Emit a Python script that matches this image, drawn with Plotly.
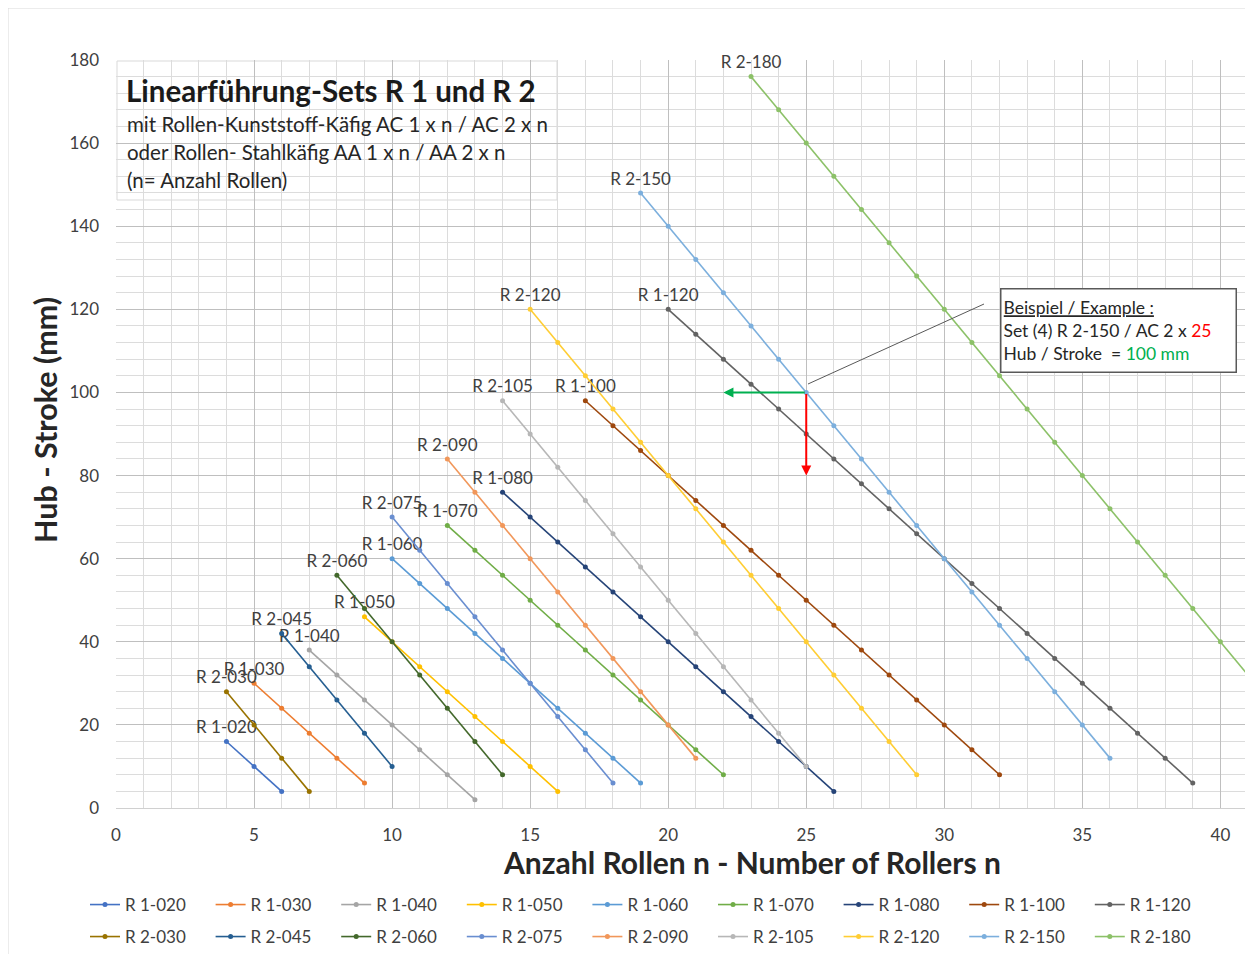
import plotly.graph_objects as go

# ---------------- data ----------------
series_names = ["R 1-020", "R 1-030", "R 1-040", "R 1-050", "R 1-060", "R 1-070",
                "R 1-080", "R 1-100", "R 1-120",
                "R 2-030", "R 2-045", "R 2-060", "R 2-075", "R 2-090", "R 2-105",
                "R 2-120", "R 2-150", "R 2-180"]

r1_020_x = [4, 5, 6]
r1_020_y = [16, 10, 4]
r1_030_x = [5, 6, 7, 8, 9]
r1_030_y = [30, 24, 18, 12, 6]
r1_040_x = [7, 8, 9, 10, 11, 12, 13]
r1_040_y = [38, 32, 26, 20, 14, 8, 2]
r1_050_x = [9, 10, 11, 12, 13, 14, 15, 16]
r1_050_y = [46, 40, 34, 28, 22, 16, 10, 4]
r1_060_x = [10, 11, 12, 13, 14, 15, 16, 17, 18, 19]
r1_060_y = [60, 54, 48, 42, 36, 30, 24, 18, 12, 6]
r1_070_x = [12, 13, 14, 15, 16, 17, 18, 19, 20, 21, 22]
r1_070_y = [68, 62, 56, 50, 44, 38, 32, 26, 20, 14, 8]
r1_080_x = [14, 15, 16, 17, 18, 19, 20, 21, 22, 23, 24, 25, 26]
r1_080_y = [76, 70, 64, 58, 52, 46, 40, 34, 28, 22, 16, 10, 4]
r1_100_x = [17, 18, 19, 20, 21, 22, 23, 24, 25, 26, 27, 28, 29, 30, 31, 32]
r1_100_y = [98, 92, 86, 80, 74, 68, 62, 56, 50, 44, 38, 32, 26, 20, 14, 8]
r1_120_x = [20, 21, 22, 23, 24, 25, 26, 27, 28, 29, 30, 31, 32, 33, 34, 35, 36, 37, 38, 39]
r1_120_y = [120, 114, 108, 102, 96, 90, 84, 78, 72, 66, 60, 54, 48, 42, 36, 30, 24, 18, 12, 6]

r2_030_x = [4, 5, 6, 7]
r2_030_y = [28, 20, 12, 4]
r2_045_x = [6, 7, 8, 9, 10]
r2_045_y = [42, 34, 26, 18, 10]
r2_060_x = [8, 9, 10, 11, 12, 13, 14]
r2_060_y = [56, 48, 40, 32, 24, 16, 8]
r2_075_x = [10, 11, 12, 13, 14, 15, 16, 17, 18]
r2_075_y = [70, 62, 54, 46, 38, 30, 22, 14, 6]
r2_090_x = [12, 13, 14, 15, 16, 17, 18, 19, 20, 21]
r2_090_y = [84, 76, 68, 60, 52, 44, 36, 28, 20, 12]
r2_105_x = [14, 15, 16, 17, 18, 19, 20, 21, 22, 23, 24, 25]
r2_105_y = [98, 90, 82, 74, 66, 58, 50, 42, 34, 26, 18, 10]
r2_120_x = [15, 16, 17, 18, 19, 20, 21, 22, 23, 24, 25, 26, 27, 28, 29]
r2_120_y = [120, 112, 104, 96, 88, 80, 72, 64, 56, 48, 40, 32, 24, 16, 8]
r2_150_x = [19, 20, 21, 22, 23, 24, 25, 26, 27, 28, 29, 30, 31, 32, 33, 34, 35, 36]
r2_150_y = [148, 140, 132, 124, 116, 108, 100, 92, 84, 76, 68, 60, 52, 44, 36, 28, 20, 12]
r2_180_x = [23, 24, 25, 26, 27, 28, 29, 30, 31, 32, 33, 34, 35, 36, 37, 38, 39, 40, 41]
r2_180_y = [176, 168, 160, 152, 144, 136, 128, 120, 112, 104, 96, 88, 80, 72, 64, 56, 48, 40, 32]

series_x = [r1_020_x, r1_030_x, r1_040_x, r1_050_x, r1_060_x, r1_070_x, r1_080_x, r1_100_x, r1_120_x,
            r2_030_x, r2_045_x, r2_060_x, r2_075_x, r2_090_x, r2_105_x, r2_120_x, r2_150_x, r2_180_x]
series_y = [r1_020_y, r1_030_y, r1_040_y, r1_050_y, r1_060_y, r1_070_y, r1_080_y, r1_100_y, r1_120_y,
            r2_030_y, r2_045_y, r2_060_y, r2_075_y, r2_090_y, r2_105_y, r2_120_y, r2_150_y, r2_180_y]

colors = ["#4472C4", "#ED7D31", "#A5A5A5", "#FFC000", "#5B9BD5", "#70AD47",
          "#264478", "#9E480E", "#636363",
          "#997300", "#255E91", "#43682B", "#698ED0", "#F1975A", "#B7B7B7",
          "#FFCD33", "#7CAFDD", "#8CC168"]

x_ticks = [0, 5, 10, 15, 20, 25, 30, 35, 40]
y_ticks = [0, 20, 40, 60, 80, 100, 120, 140, 160, 180]

FONT = "Lato, 'Open Sans', sans-serif"
TXT = "#404040"

# pixel geometry helpers (layout only); the page body adds an 8px margin
OFF = 8
W, H = 1253 - OFF, 954 - OFF
ML, MR, MT, MB = 116 - OFF, 5, 60 - OFF, 146
PW, PH = W - ML - MR, H - MT - MB


def px(xp):  # page pixel -> paper x
    return (xp - OFF - ML) / PW


def py(yp):  # page pixel -> paper y
    return (H - MB - (yp - OFF)) / PH


fig = go.Figure()
for i, name in enumerate(series_names):
    xs, ys = series_x[i], series_y[i]
    labels = [name] + [""] * (len(xs) - 1)
    fig.add_trace(go.Scatter(
        x=xs, y=ys, name=name,
        mode="lines+markers+text",
        text=labels, textposition="top center",
        textfont=dict(family=FONT, size=17, color=TXT),
        line=dict(color=colors[i], width=1.6),
        marker=dict(color=colors[i], size=5),
        cliponaxis=False,
        legend="legend" if i < 9 else "legend2",
    ))

fig.update_layout(
    width=W, height=H,
    margin=dict(l=ML, r=MR, t=MT, b=MB, autoexpand=False),
    paper_bgcolor="white", plot_bgcolor="white",
    font=dict(family=FONT, color=TXT),
    showlegend=True,
    xaxis=dict(range=[0, 41], tickvals=x_ticks, showgrid=True, gridcolor="#BFBFBF", gridwidth=1,
               minor=dict(dtick=1, showgrid=True, gridcolor="#DCDCDC", gridwidth=1),
               zeroline=False, showline=True, linecolor="#D0D0D0",
               tickfont=dict(family=FONT, size=17, color="#404040"), ticks="", ticklabelstandoff=12,
               automargin=False),
    yaxis=dict(range=[0, 180], tickvals=y_ticks, showgrid=True, gridcolor="#BFBFBF", gridwidth=1,
               minor=dict(dtick=4, showgrid=True, gridcolor="#DCDCDC", gridwidth=1),
               zeroline=False, showline=False,
               tickfont=dict(family=FONT, size=17, color="#404040"), ticks="", ticklabelstandoff=16,
               automargin=False),
    legend=dict(orientation="h", x=px(85), xanchor="left", y=py(905), yanchor="middle",
                font=dict(family=FONT, size=17, color=TXT), entrywidth=80.6, entrywidthmode="pixels",
                bgcolor="rgba(0,0,0,0)", tracegroupgap=0),
    legend2=dict(orientation="h", x=px(85), xanchor="left", y=py(937), yanchor="middle",
                 font=dict(family=FONT, size=17, color=TXT), entrywidth=80.6, entrywidthmode="pixels",
                 bgcolor="rgba(0,0,0,0)", tracegroupgap=0),
)

shapes = [
    # outer chart frame
    dict(type="rect", xref="paper", yref="paper", x0=px(8), x1=px(1260), y0=py(960), y1=py(8),
         line=dict(color="#D9D9D9", width=1), fillcolor="rgba(0,0,0,0)", layer="below"),
    # title box
    dict(type="rect", xref="paper", yref="paper", x0=px(117), x1=px(557), y0=py(200), y1=py(61),
         line=dict(color="#D9D9D9", width=1), fillcolor="white", layer="between"),
    # leader line of example box
    dict(type="line", xref="paper", yref="paper", x0=px(808), y0=py(384), x1=px(984), y1=py(304),
         line=dict(color="#595959", width=1)),
]

annotations = [
    dict(text="<b>Linearführung-Sets R 1 und R 2</b>", xref="paper", yref="paper",
         x=px(124), y=py(90), xanchor="left", yanchor="middle", showarrow=False,
         font=dict(family=FONT, size=29.5, color="#1A1A1A")),
    dict(text="mit Rollen-Kunststoff-Käfig AC 1 x n / AC 2 x n", xref="paper", yref="paper",
         x=px(125), y=py(124), xanchor="left", yanchor="middle", showarrow=False,
         font=dict(family=FONT, size=20.5, color="#262626")),
    dict(text="oder Rollen- Stahlkäfig AA 1 x n / AA 2 x n", xref="paper", yref="paper",
         x=px(125), y=py(152), xanchor="left", yanchor="middle", showarrow=False,
         font=dict(family=FONT, size=20.5, color="#262626")),
    dict(text="(n= Anzahl Rollen)", xref="paper", yref="paper",
         x=px(125), y=py(180), xanchor="left", yanchor="middle", showarrow=False,
         font=dict(family=FONT, size=20.5, color="#262626")),
    # example box
    dict(text="<u>Beispiel / Example :</u><br>Set (4) R 2-150 / AC 2 x <span style='color:#FF0000'>25</span>"
              "<br>Hub / Stroke  = <span style='color:#00B050'>100 mm</span>",
         xref="paper", yref="paper", x=px(1000), y=py(288), xanchor="left", yanchor="top",
         showarrow=False, align="left", width=230, height=78, valign="middle",
         bgcolor="white", bordercolor="#595959", borderwidth=1.5, borderpad=2,
         font=dict(family=FONT, size=17.5, color="#262626")),
    # arrows
    dict(x=22, y=100, ax=25, ay=100, xref="x", yref="y", axref="x", ayref="y", text="",
         showarrow=True, arrowhead=2, arrowsize=1, arrowwidth=2, arrowcolor="#00B050"),
    dict(x=25, y=80, ax=25, ay=100, xref="x", yref="y", axref="x", ayref="y", text="",
         showarrow=True, arrowhead=2, arrowsize=1, arrowwidth=2, arrowcolor="#FF0000"),
    # axis titles
    dict(text="<b>Anzahl Rollen n - Number of Rollers n</b>", xref="paper", yref="paper",
         x=px(752), y=py(862), xanchor="center", yanchor="middle", showarrow=False,
         font=dict(family=FONT, size=30, color="#262626")),
    dict(text="<b>Hub - Stroke (mm)</b>", xref="paper", yref="paper", textangle=-90,
         x=px(45), y=py(420), xanchor="center", yanchor="middle", showarrow=False,
         font=dict(family=FONT, size=30.5, color="#262626")),
]

fig.update_layout(shapes=shapes, annotations=annotations)
fig.write_html("out.html")
